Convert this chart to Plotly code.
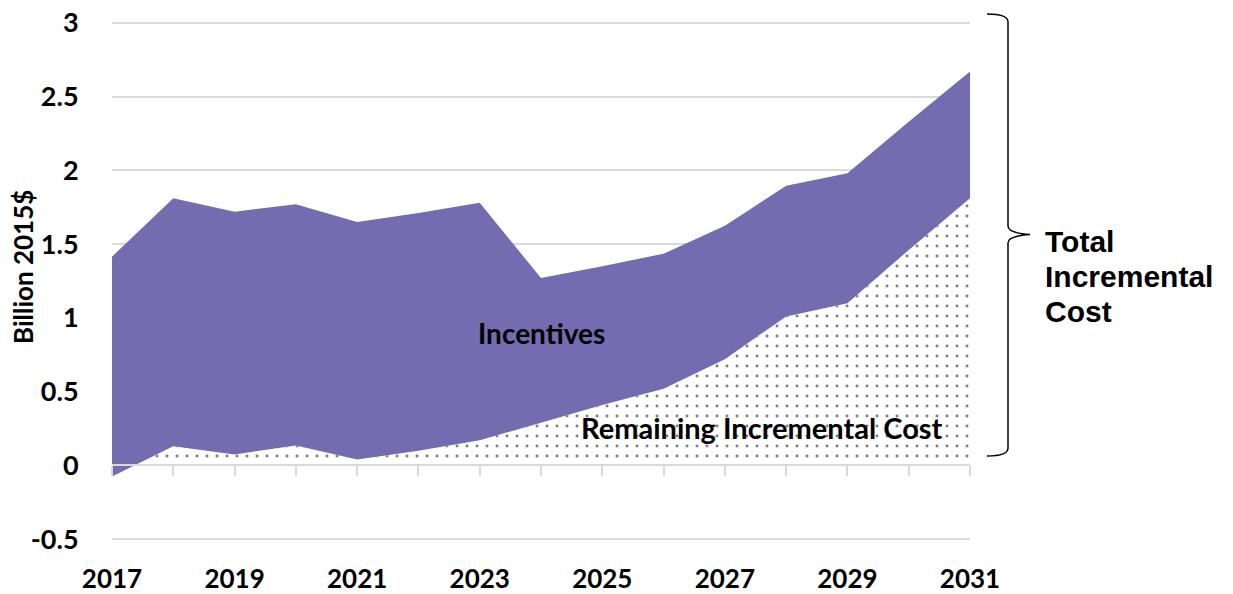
import plotly.graph_objects as go

# ---- data ----
years = [2017, 2018, 2019, 2020, 2021, 2022, 2023, 2024, 2025, 2026, 2027, 2028, 2029, 2030, 2031]
remaining_cost = [-0.075, 0.13, 0.075, 0.135, 0.04, 0.10, 0.17, 0.29, 0.41, 0.52, 0.72, 1.01, 1.10, 1.46, 1.81]
total_cost = [1.415, 1.81, 1.72, 1.77, 1.65, 1.71, 1.78, 1.27, 1.35, 1.435, 1.625, 1.895, 1.98, 2.33, 2.67]
x_label_years = [2017, 2019, 2021, 2023, 2025, 2027, 2029, 2031]
y_tick_vals = [-0.5, 0, 0.5, 1, 1.5, 2, 2.5, 3]
y_tick_text = ["-0.5", "0", "0.5", "1", "1.5", "2", "2.5", "3"]
brace_label_lines = ["Total", "Incremental", "Cost"]

PURPLE = "#756bb0"
GRID = "#d9d9d9"
FONT = "Lato"

# layout geometry (pixels)
W, H = 1233, 594
ML, MR, MT, MB = 112, 263, 21, 53
PW, PH = W - ML - MR, H - MT - MB


def px(x):
    return (x - ML) / PW


def py(y):
    return (H - MB - y) / PH


fig = go.Figure()

fig.add_trace(go.Scatter(
    x=years, y=remaining_cost, mode="lines", line=dict(width=0, color="black"),
    fill="tozeroy",
    fillpattern=dict(shape=".", fgcolor="black", bgcolor="white", size=10, solidity=0.07),
    name="Remaining Incremental Cost", showlegend=False, hoverinfo="skip",
))
fig.add_trace(go.Scatter(
    x=years, y=total_cost, mode="lines", line=dict(width=0, color=PURPLE),
    fill="tonexty", fillcolor=PURPLE,
    name="Incentives", showlegend=False, hoverinfo="skip",
))
# helper trace so the zero-line axis is drawn
fig.add_trace(go.Scatter(
    x=[years[0]], y=[0], xaxis="x2", mode="markers", marker=dict(opacity=0),
    showlegend=False, hoverinfo="skip",
))

pad = 0.012
y_lo, y_hi = y_tick_vals[0] - pad, y_tick_vals[-1] + pad
zero_pos = (0 - y_lo) / (y_hi - y_lo)

fig.update_layout(
    width=W, height=H,
    margin=dict(l=ML, r=MR, t=MT, b=MB, autoexpand=False),
    paper_bgcolor="white", plot_bgcolor="white",
    showlegend=False,
    xaxis=dict(
        range=[years[0], years[-1]], tickvals=x_label_years,
        ticktext=[str(v) for v in x_label_years],
        showgrid=False, zeroline=False, showline=False, automargin=False,
        ticks="outside", ticklen=15, tickcolor="rgba(0,0,0,0)",
        tickfont=dict(family=FONT, size=26, color="black", weight="bold"),
    ),
    xaxis2=dict(
        overlaying="x", anchor="free", position=zero_pos, automargin=False,
        range=[years[0], years[-1]], tickvals=years,
        showticklabels=False, showgrid=False, zeroline=False,
        showline=True, linecolor=GRID, linewidth=2,
        ticks="outside", ticklen=10, tickwidth=1.5, tickcolor=GRID,
        layer="above traces",
    ),
    yaxis=dict(
        range=[y_lo, y_hi], tickvals=y_tick_vals, ticktext=y_tick_text,
        showgrid=True, gridcolor=GRID, gridwidth=1.5, zeroline=False, showline=False,
        automargin=False,
        ticks="outside", ticklen=27, tickcolor="rgba(0,0,0,0)",
        tickfont=dict(family=FONT, size=27, color="black", weight="bold"),
    ),
)

fig.add_annotation(
    text="Billion 2015$", xref="paper", yref="paper", x=px(23), y=py(267),
    textangle=-90, showarrow=False, xanchor="center", yanchor="middle",
    font=dict(family=FONT, size=26, color="black", weight="bold"),
)
fig.add_annotation(
    text="Incentives", xref="x", yref="y", x=2024.0, y=0.90,
    showarrow=False, xanchor="center", yanchor="middle",
    font=dict(family=FONT, size=28, color="black", weight="bold"),
)
fig.add_annotation(
    text="Remaining Incremental Cost", xref="x", yref="y", x=2027.6, y=0.257,
    showarrow=False, xanchor="center", yanchor="middle",
    font=dict(family=FONT, size=29, color="black", weight="bold"),
)
for i, line in enumerate(brace_label_lines):
    fig.add_annotation(
        text=line, xref="paper", yref="paper", x=px(1043), y=py(241 + 35 * i),
        showarrow=False, xanchor="left", yanchor="middle", align="left",
        font=dict(family="Liberation Sans", size=30, color="black", weight="bold"),
    )

# curly brace
pts = [
    ("M", (987, 14)), ("Q", (1008, 14), (1008, 22)), ("L", (1008, 226)),
    ("Q", (1008, 233), (1030, 234.5)), ("Q", (1008, 236), (1008, 243)),
    ("L", (1008, 448)), ("Q", (1008, 456), (987, 456)),
]
path = ""
for item in pts:
    cmd = item[0]
    coords = " ".join(f"{px(a):.5f},{py(b):.5f}" for a, b in item[1:])
    path += f"{cmd} {coords} "
fig.add_shape(type="path", path=path.strip(), xref="paper", yref="paper",
              line=dict(color="black", width=1.5))

fig.write_html(
    "out.html",
    config={"displayModeBar": False},
    post_script="document.body.style.margin='0';document.body.style.padding='0';document.body.style.overflow='hidden';",
)
